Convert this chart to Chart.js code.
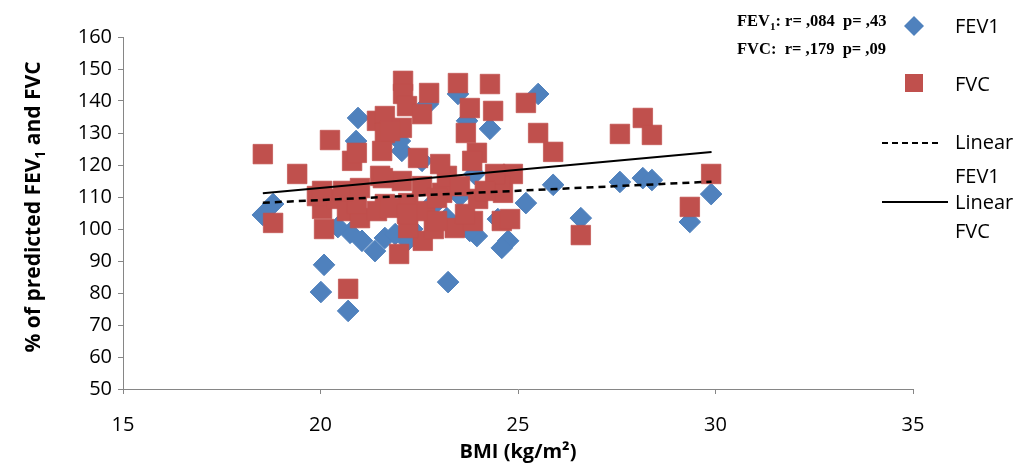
<!DOCTYPE html>
<html>
<head>
<meta charset="utf-8">
<script src="https://cdn.jsdelivr.net/npm/chart.js@4.4.0/dist/chart.umd.min.js"></script>
<style>
  html, body { margin: 0; padding: 0; background: #fff; }
  #wrap { width: 1021px; height: 466px; }
</style>
</head>
<body>
<div id="wrap"><canvas id="myChart" width="1021" height="466"></canvas></div>
<script>
// FEV1 (% predicted) vs BMI
const fev1Bmi = [18.54, 18.80, 20.09, 20.01, 20.70, 20.95, 20.90, 22.06, 22.01, 22.72,
  24.29, 23.48, 23.71, 22.57, 25.51, 25.89, 27.58, 28.16, 28.39, 29.89,
  29.35, 26.59, 25.20, 24.75, 24.59, 24.49, 23.23, 21.38, 21.63, 23.96,
  22.85, 23.20, 22.20, 20.75, 21.05, 20.44, 21.89, 22.32, 23.60, 23.78,
  21.60, 23.53, 23.90, 22.85];
const fev1Pct = [104.4, 107.8, 88.8, 80.3, 74.4, 134.7, 127.5, 124.4, 127.5, 139.1,
  131.3, 142.2, 133.8, 121.3, 142.2, 113.8, 114.7, 115.9, 115.3, 110.9,
  102.2, 103.4, 108.1, 96.3, 94.1, 103.1, 83.4, 93.1, 97.2, 97.8,
  107.2, 103.4, 96.3, 98.8, 96.3, 100.6, 98.4, 100.0, 101.9, 99.4,
  107.2, 110.3, 117.2, 108.1];

// FVC (% predicted) vs BMI
const fvcBmi = [18.54, 20.24, 19.41, 20.80, 20.92, 21.43, 18.80, 20.70, 20.09, 20.04,
  19.91, 20.42, 20.67, 21.00, 20.92, 21.99, 22.59, 22.22, 22.87, 23.40,
  23.86, 23.66, 23.08, 23.99, 24.59, 21.63, 22.22, 22.65, 24.62, 24.80,
  26.59, 29.35, 25.20, 25.51, 25.89, 27.58, 28.16, 28.39, 29.89, 24.87,
  24.54, 22.09, 22.09, 22.75, 22.19, 22.57, 21.63, 23.48, 24.29, 23.78,
  24.37, 23.68, 22.06, 21.63, 21.56, 22.47, 23.96, 23.84, 23.20, 24.42,
  21.76, 21.51, 22.06, 23.03, 20.57, 21.00, 21.58, 22.57, 22.95, 21.43,
  21.76, 22.19, 22.95, 20.04, 23.53, 24.16];
const fvcPct = [123.4, 127.8, 117.2, 121.3, 123.8, 133.8, 101.9, 81.3, 100.0, 106.3,
  110.3, 109.4, 105.6, 103.4, 107.8, 92.2, 96.3, 100.3, 100.0, 100.3,
  102.5, 104.7, 111.3, 109.4, 102.5, 107.8, 108.1, 105.6, 111.3, 103.1,
  98.1, 106.9, 139.4, 130.0, 124.1, 129.7, 134.7, 129.4, 117.2, 117.2,
  113.4, 146.3, 142.2, 142.5, 138.4, 135.9, 135.3, 145.6, 145.3, 137.8,
  136.9, 130.0, 131.6, 130.0, 124.4, 122.2, 123.8, 121.3, 116.6, 117.2,
  130.6, 116.6, 115.0, 120.3, 111.9, 112.8, 115.9, 113.4, 109.7, 105.6,
  106.6, 104.7, 102.5, 111.9, 113.4, 111.9];

// linear trend lines, end points as drawn
const trendBmi = [18.54, 29.9];
const fev1TrendPct = [108.2, 114.8];
const fvcTrendPct = [111.2, 124.1];

const xTicks = [15, 20, 25, 30, 35];
const yTicks = [50, 60, 70, 80, 90, 100, 110, 120, 130, 140, 150, 160];

const blue = '#4F81BD';
const red = '#C0504D';
const axisGrey = '#868686';
const sans = '"Open Sans", "Liberation Sans", sans-serif';
const serif = '"Liberation Serif", "DejaVu Serif", serif';

const toPoints = (xs, ys) => xs.map((x, i) => ({ x: x, y: ys[i] }));

// draw text made of normal and subscript pieces
function drawRich(ctx, parts, x, y, size, weight, family, align) {
  const widths = parts.map(p => {
    ctx.font = weight + ' ' + (p[1] ? Math.round(size * 0.65) : size) + 'px ' + family;
    return ctx.measureText(p[0]).width;
  });
  const total = widths.reduce((a, b) => a + b, 0);
  let cx = align === 'center' ? x - total / 2 : x;
  ctx.textAlign = 'left';
  ctx.textBaseline = 'alphabetic';
  parts.forEach((p, i) => {
    ctx.font = weight + ' ' + (p[1] ? Math.round(size * 0.65) : size) + 'px ' + family;
    ctx.fillText(p[0], cx, p[1] ? y + size * 0.22 : y);
    cx += widths[i];
  });
}

const extras = {
  id: 'extras',
  afterDraw(chart) {
    const ctx = chart.ctx;
    ctx.save();
    ctx.fillStyle = '#000';

    // y axis title with subscript
    ctx.save();
    ctx.translate(40, 207);
    ctx.rotate(-Math.PI / 2);
    drawRich(ctx, [['% of predicted FEV', 0], ['1', 1], [' and FVC', 0]], 0, 0, 21, 'bold', sans, 'center');
    ctx.restore();

    // correlation note
    drawRich(ctx, [['FEV', 0], ['1', 1], [': r= ,084  p= ,43', 0]], 737, 26, 16.5, 'bold', serif, 'left');
    drawRich(ctx, [['FVC:  r= ,179  p= ,09', 0]], 737, 54, 16.5, 'bold', serif, 'left');

    // legend
    ctx.fillStyle = blue;
    ctx.beginPath();
    ctx.moveTo(914, 16); ctx.lineTo(924, 26); ctx.lineTo(914, 36); ctx.lineTo(904, 26);
    ctx.closePath();
    ctx.fill();
    ctx.fillStyle = red;
    ctx.fillRect(905, 74, 18, 18);

    ctx.strokeStyle = '#000';
    ctx.lineWidth = 2;
    ctx.setLineDash([6, 4]);
    ctx.beginPath(); ctx.moveTo(882, 143); ctx.lineTo(942, 143); ctx.stroke();
    ctx.setLineDash([]);
    ctx.beginPath(); ctx.moveTo(882, 202); ctx.lineTo(948, 202); ctx.stroke();

    ctx.fillStyle = '#000';
    ctx.font = '20px ' + sans;
    ctx.textAlign = 'left';
    ctx.textBaseline = 'middle';
    ctx.fillText('FEV1', 955, 27);
    ctx.fillText('FVC', 955, 85);
    ctx.fillText('Linear', 955, 143);
    ctx.fillText('FEV1', 955, 177);
    ctx.fillText('Linear', 955, 203);
    ctx.fillText('FVC', 955, 232);
    ctx.restore();
  }
};

const ctx = document.getElementById('myChart').getContext('2d');

const myChart = new Chart(ctx, {
  type: 'scatter',
  data: {
    datasets: [
      {
        label: 'Linear FEV1',
        data: toPoints(trendBmi, fev1TrendPct),
        showLine: true,
        borderColor: '#000',
        borderWidth: 2.5,
        borderDash: [7, 5],
        pointRadius: 0,
        order: 0
      },
      {
        label: 'Linear FVC',
        data: toPoints(trendBmi, fvcTrendPct),
        showLine: true,
        borderColor: '#000',
        borderWidth: 2,
        pointRadius: 0,
        order: 0
      },
      {
        label: 'FVC',
        data: toPoints(fvcBmi, fvcPct),
        pointStyle: 'rect',
        pointRadius: 13.8,
        backgroundColor: red,
        borderColor: 'rgba(192, 80, 77, 0.7)',
        borderWidth: 1,
        order: 1
      },
      {
        label: 'FEV1',
        data: toPoints(fev1Bmi, fev1Pct),
        pointStyle: 'rectRot',
        pointRadius: 10.8,
        backgroundColor: blue,
        borderColor: blue,
        borderWidth: 1,
        order: 2
      }
    ]
  },
  options: {
    responsive: false,
    animation: false,
    events: [],
    layout: { padding: { top: 37, right: 108, left: 0, bottom: 0 } },
    scales: {
      x: {
        type: 'linear',
        min: 15,
        max: 35,
        afterBuildTicks: s => { s.ticks = xTicks.map(v => ({ value: v })); },
        afterFit: s => { s.height = 77; },
        grid: { drawOnChartArea: false, drawTicks: true, tickLength: 5, color: axisGrey },
        border: { display: true, color: axisGrey, width: 1 },
        ticks: { color: '#000', padding: 19, font: { family: sans, size: 20 } },
        title: {
          display: true,
          text: 'BMI (kg/m²)',
          color: '#000',
          padding: { top: 0, bottom: 2 },
          font: { family: sans, size: 20, weight: 'bold' }
        }
      },
      y: {
        type: 'linear',
        min: 50,
        max: 160,
        afterBuildTicks: s => { s.ticks = yTicks.map(v => ({ value: v })); },
        afterFit: s => { s.width = 123; },
        grid: { drawOnChartArea: false, drawTicks: true, tickLength: 5, color: axisGrey },
        border: { display: true, color: axisGrey, width: 1 },
        ticks: { color: '#000', padding: 6, font: { family: sans, size: 20 } }
      }
    },
    plugins: {
      legend: { display: false },
      tooltip: { enabled: false }
    }
  },
  plugins: [extras]
});
</script>
</body>
</html>
